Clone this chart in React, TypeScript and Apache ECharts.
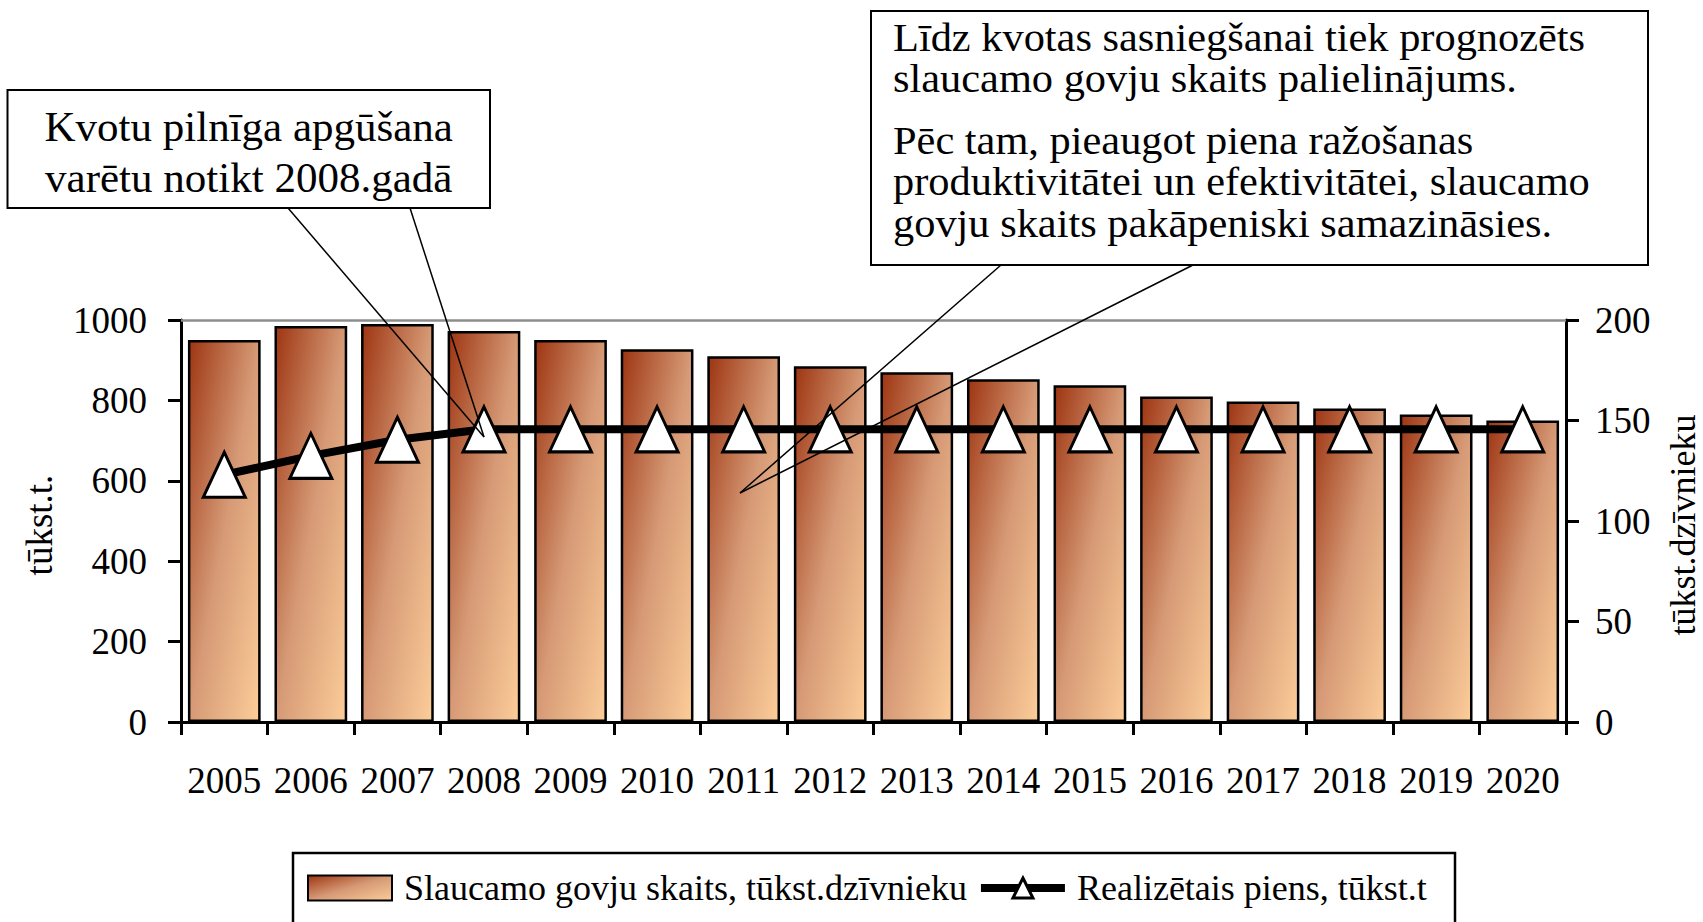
import React, { useEffect, useRef } from "react";
import * as echarts from "echarts";

const years = ["2005", "2006", "2007", "2008", "2009", "2010", "2011", "2012", "2013", "2014", "2015", "2016", "2017", "2018", "2019", "2020"];
// Slaucamo govju skaits, tūkst.dzīvnieku (right axis)
const cows = [190, 197, 198, 194.5, 190, 185.5, 182, 177, 174, 170.5, 167.5, 162, 159.5, 156, 153, 150];
// Realizētais piens, tūkst.t (left axis)
const milk = [615, 662, 702, 728, 728, 728, 728, 728, 728, 728, 728, 728, 728, 728, 728, 728];

const cowsName = "Slaucamo govju skaits, tūkst.dzīvnieku";
const milkName = "Realizētais piens, tūkst.t";
const leftTitle = "tūkst.t.";
const rightTitle = "tūkst.dzīvnieku";
const note1 = "Kvotu pilnīga apgūšana\nvarētu notikt 2008.gadā";
const note2a = ["Līdz kvotas sasniegšanai tiek prognozēts", "slaucamo govju skaits palielinājums."];
const note2b = ["Pēc tam, pieaugot piena ražošanas", "produktivitātei un efektivitātei, slaucamo", "govju skaits pakāpeniski samazināsies."];

const F = "'Liberation Serif', 'Times New Roman', serif";

export default function App() {
  const ref = useRef<HTMLDivElement>(null);
  useEffect(() => {
    if (!ref.current) return;
    const chart = echarts.init(ref.current, undefined, { renderer: "svg" });
    const barFill = new echarts.graphic.LinearGradient(0, 0, 1, 1, [
      { offset: 0, color: "#9E3512" },
      { offset: 0.5, color: "#D69A76" },
      { offset: 1, color: "#FCCD99" },
    ]);
    const axisCommon = {
      axisLine: { show: true, lineStyle: { color: "#000", width: 3 } },
      axisTick: { show: true, length: 13, lineStyle: { color: "#000", width: 3 } },
      splitLine: { show: false },
    };
    const plain = (v: number) => String(v);
    const noteLines: any[] = [];
    note2a.forEach((t, i) => {
      noteLines.push({ type: "text", z: 101, x: 893, y: 37 + i * 41.5, scaleX: 1.06, style: { text: t, font: `40px ${F}`, fill: "#000", align: "left", verticalAlign: "middle" } });
    });
    note2b.forEach((t, i) => {
      noteLines.push({ type: "text", z: 101, x: 893, y: 140 + i * 41.5, scaleX: 1.06, style: { text: t, font: `40px ${F}`, fill: "#000", align: "left", verticalAlign: "middle" } });
    });
    chart.setOption({
      animation: false,
      textStyle: { fontFamily: F, color: "#000" },
      grid: { left: 181, right: 137, top: 320, bottom: 200 },
      xAxis: {
        type: "category",
        data: years,
        ...axisCommon,
        axisLabel: { color: "#000", fontSize: 37, fontFamily: F, margin: 40, interval: 0 },
      },
      yAxis: [
        {
          type: "value",
          position: "left",
          min: 0,
          max: 1000,
          interval: 200,
          ...axisCommon,
          axisLabel: { color: "#000", fontSize: 37, fontFamily: F, margin: 34, formatter: plain },
        },
        {
          type: "value",
          position: "right",
          min: 0,
          max: 200,
          interval: 50,
          ...axisCommon,
          axisLabel: { color: "#000", fontSize: 37, fontFamily: F, margin: 29, formatter: plain },
        },
      ],
      legend: {
        left: 307,
        top: 870,
        padding: 0,
        itemWidth: 84,
        itemHeight: 25,
        itemGap: 10,
        textStyle: { fontSize: 36, color: "#000", fontFamily: F, padding: [0, 0, 0, 7] },
        data: [
          { name: cowsName, icon: "rect" },
          {
            name: milkName,
            lineStyle: { color: "#000", width: 8 },
            itemStyle: { color: "#fff", borderColor: "#000", borderWidth: 3 },
          },
        ],
      },
      series: [
        {
          name: cowsName,
          type: "bar",
          yAxisIndex: 1,
          data: cows,
          barCategoryGap: "16%",
          itemStyle: { color: barFill, borderColor: "#000", borderWidth: 2.5 },
          z: 2,
        },
        {
          name: milkName,
          type: "line",
          yAxisIndex: 0,
          data: milk,
          symbol: "triangle",
          symbolSize: [42, 45],
          lineStyle: { color: "#000", width: 8 },
          itemStyle: { color: "#fff", borderColor: "#000", borderWidth: 3 },
          z: 5,
          markLine: {
            silent: true,
            symbol: ["none", "none"],
            label: { show: false },
            lineStyle: { color: "#8c8c8c", width: 2.5, type: "solid" },
            data: [{ yAxis: 1000 }],
          },
        },
      ],
      graphic: [
        { type: "rect", z: 100, shape: { x: 293, y: 853, width: 1162, height: 80 }, style: { fill: "none", stroke: "#000", lineWidth: 2.5 } },
        { type: "rect", z: 100, shape: { x: 7.5, y: 90, width: 482.5, height: 118 }, style: { fill: "#fff", stroke: "#000", lineWidth: 2 } },
        { type: "text", z: 101, x: 248.7, y: 152, style: { text: note1, font: `43px ${F}`, fill: "#000", align: "center", verticalAlign: "middle", lineHeight: 51 } },
        { type: "line", z: 100, shape: { x1: 288, y1: 208, x2: 484, y2: 437 }, style: { stroke: "#000", lineWidth: 1.5 } },
        { type: "line", z: 100, shape: { x1: 410, y1: 208, x2: 484, y2: 437 }, style: { stroke: "#000", lineWidth: 1.5 } },
        { type: "rect", z: 100, shape: { x: 871, y: 11, width: 777, height: 254 }, style: { fill: "#fff", stroke: "#000", lineWidth: 2 } },
        ...noteLines,
        { type: "line", z: 100, shape: { x1: 1001, y1: 265, x2: 740, y2: 493 }, style: { stroke: "#000", lineWidth: 1.5 } },
        { type: "line", z: 100, shape: { x1: 1193, y1: 265, x2: 740, y2: 493 }, style: { stroke: "#000", lineWidth: 1.5 } },
        { type: "text", z: 101, x: 39, y: 525, rotation: Math.PI / 2, style: { text: leftTitle, font: `37px ${F}`, fill: "#000", align: "center", verticalAlign: "middle" } },
        { type: "text", z: 101, x: 1683, y: 525, rotation: Math.PI / 2, style: { text: rightTitle, font: `36px ${F}`, fill: "#000", align: "center", verticalAlign: "middle" } },
      ],
    });
    return () => chart.dispose();
  }, []);
  return <div ref={ref} style={{ position: "fixed", left: 0, top: 0, width: 1703, height: 922, background: "#fff" }} />;
}
